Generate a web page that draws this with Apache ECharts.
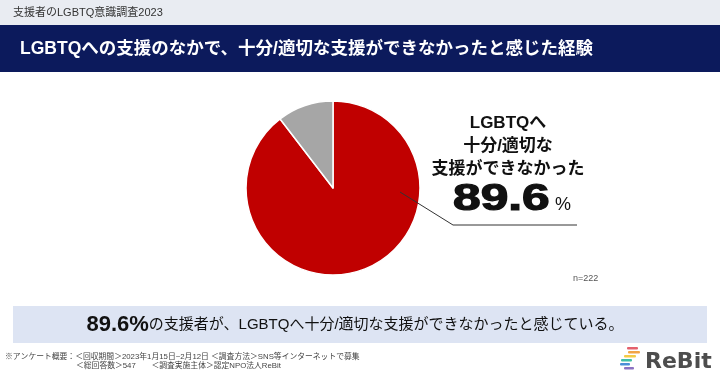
<!DOCTYPE html>
<html>
<head>
<meta charset="utf-8">
<script src="https://cdn.jsdelivr.net/npm/echarts@6/dist/echarts.min.js"></script>
<style>
  html, body { margin: 0; padding: 0; background: #fff; }
  #main { width: 720px; height: 378px; }
</style>
</head>
<body>
<div id="main"></div>
<script>
// データ
const categories = ['十分/適切な支援ができなかった', 'その他']
const values = [89.6, 10.4]
const colors = ['#c00000', '#a6a6a6']
const sampleSize = 222

const JP = '"Liberation Sans", "Noto Sans CJK JP", sans-serif'

const chart = echarts.init(document.getElementById('main'))

// ロゴの色帯
const logoBars = [
  [627, 347, 11, '#e4606d'],
  [628, 351, 12, '#f2a444'],
  [624, 355, 12, '#f4cb45'],
  [621, 359, 11, '#3fbfa6'],
  [620, 363, 10, '#4a8fd8'],
  [624, 367, 10, '#8b72c2'],
]

const option = {
  backgroundColor: '#fff',
  animation: false,
  graphic: [
    // ヘッダー
    { type: 'rect', shape: { x: 0, y: 0, width: 720, height: 25 }, style: { fill: '#e9ecf2' } },
    { type: 'text', x: 13, y: 13, style: { text: '支援者のLGBTQ意識調査2023', font: '11px ' + JP, fill: '#333', verticalAlign: 'middle' } },
    { type: 'rect', shape: { x: 0, y: 25, width: 720, height: 47 }, style: { fill: '#0c1a5c' } },
    { type: 'text', x: 20, y: 49, style: { text: 'LGBTQへの支援のなかで、十分/適切な支援ができなかったと感じた経験', font: 'bold 17.5px ' + JP, fill: '#fff', verticalAlign: 'middle' } },

    // 引き出し線
    { type: 'polyline', z: 10, shape: { points: [[400, 192], [453, 225], [577, 225]] }, style: { stroke: '#333', lineWidth: 1, fill: null } },
    { type: 'text', z: 10, x: 508, y: 123, style: { text: 'LGBTQへ', font: 'bold 17px ' + JP, fill: '#111', align: 'center', verticalAlign: 'middle' } },
    { type: 'text', z: 10, x: 508, y: 146, style: { text: '十分/適切な', font: 'bold 17px ' + JP, fill: '#111', align: 'center', verticalAlign: 'middle' } },
    { type: 'text', z: 10, x: 508, y: 169, style: { text: '支援ができなかった', font: 'bold 17px ' + JP, fill: '#111', align: 'center', verticalAlign: 'middle' } },
    {
      type: 'text', z: 10, x: 453, y: 0, scaleX: 1.38, originX: 0,
      style: { text: String(values[0]), x: 0, y: 200, font: 'bold 36px "Liberation Sans", sans-serif', fill: '#111', stroke: '#111', lineWidth: 1.2, verticalAlign: 'middle' },
    },
    { type: 'text', z: 10, x: 555, y: 214, style: { text: '%', font: '18px "Liberation Sans", sans-serif', fill: '#111', verticalAlign: 'bottom' } },
    { type: 'text', x: 573, y: 279, style: { text: 'n=' + sampleSize, font: '9px ' + JP, fill: '#555', verticalAlign: 'middle' } },

    // まとめ
    { type: 'rect', shape: { x: 13, y: 306, width: 694, height: 37 }, style: { fill: '#dde4f3' } },
    {
      type: 'text', x: 355, y: 325,
      style: {
        text: '{a|' + values[0] + '%}{b|の支援者が、LGBTQへ十分/適切な支援ができなかったと感じている。}',
        align: 'center', verticalAlign: 'middle',
        rich: {
          a: { font: 'bold 22px "Liberation Sans", sans-serif', fill: '#111' },
          b: { font: '15px ' + JP, fill: '#111' },
        },
      },
    },

    // 注記
    { type: 'text', x: 5, y: 357, style: { text: '※アンケート概要：＜回収期間＞2023年1月15日~2月12日 ＜調査方法＞SNS等インターネットで募集', font: '7.8px ' + JP, fill: '#444', verticalAlign: 'middle' } },
    { type: 'text', x: 76, y: 366, style: { text: '＜総回答数＞547　　＜調査実施主体＞認定NPO法人ReBit', font: '7.8px ' + JP, fill: '#444', verticalAlign: 'middle' } },

    // ロゴ
    ...logoBars.map(b => ({ type: 'rect', shape: { x: b[0], y: b[1], width: b[2], height: 2.5, r: 1 }, style: { fill: b[3] } })),
    { type: 'text', x: 645, y: 362, style: { text: 'ReBit', font: 'bold 22px "DejaVu Sans", sans-serif', fill: '#4d4d4d', verticalAlign: 'middle' } },
  ],
  series: [
    {
      type: 'pie',
      center: [333, 188],
      radius: 87,
      startAngle: 90,
      label: { show: false },
      labelLine: { show: false },
      emphasis: { disabled: true },
      itemStyle: { borderColor: '#fff', borderWidth: 1.5 },
      data: categories.map((name, i) => ({ name, value: values[i], itemStyle: { color: colors[i] } })),
    },
  ],
}

chart.setOption(option)
</script>
</body>
</html>
